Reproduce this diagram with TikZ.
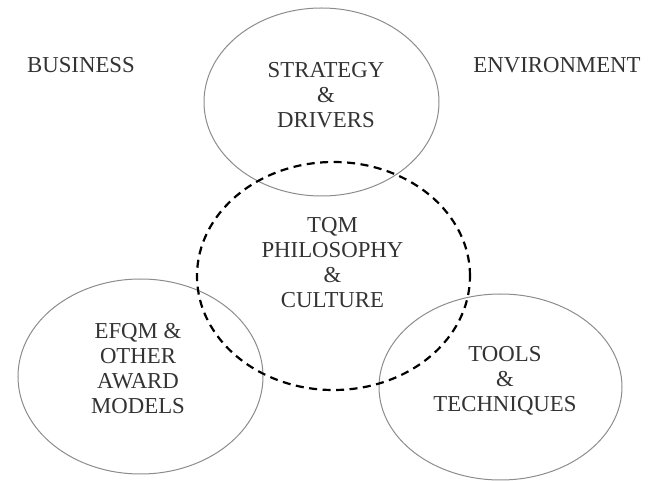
\documentclass[tikz,border=0pt]{standalone}
\usepackage{fontspec}
\setmainfont{Liberation Serif}
\usetikzlibrary{shapes.geometric}
\definecolor{rimgray}{HTML}{8C8C8C}
\definecolor{inkgray}{HTML}{333333}
\begin{document}
\begin{tikzpicture}[x=1pt,y=-1pt,
  area/.style={ellipse,draw=rimgray,line width=1pt,inner sep=0pt,outer sep=0pt},
  core/.style={ellipse,draw=black,line width=2.2pt,dash pattern=on 8pt off 5.5pt,inner sep=0pt,outer sep=0pt},
  caption/.style={inner sep=0pt,align=center,text=inkgray,font=\fontsize{22.8}{25}\selectfont}]
\useasboundingbox (0,0) rectangle (657,481);
% outer themes
\node[area,minimum width=235pt,minimum height=188pt] (strategy) at (321.5,102) {};
\node[area,minimum width=245pt,minimum height=195pt] (efqm) at (140.5,376.5) {};
\node[area,minimum width=243pt,minimum height=186pt] (tools) at (500.5,387) {};
% central dashed circle
\node[core,minimum width=273pt,minimum height=228pt] (tqm) at (333.5,276) {};
% labels
\node[caption] (strategytext) at (326,95.5) {STRATEGY\\\&\\DRIVERS};
\node[caption] (tqmtext) at (332.5,263) {TQM\\PHILOSOPHY\\\&\\CULTURE};
\node[caption] (efqmtext) at (138,369) {EFQM \&\\OTHER\\AWARD\\MODELS};
\node[caption] (toolstext) at (505,381) {TOOLS\\\&\\TECHNIQUES};
\node[caption] (business) at (81,65) {BUSINESS};
\node[caption] (environment) at (557,65) {ENVIRONMENT};
\end{tikzpicture}
\end{document}
